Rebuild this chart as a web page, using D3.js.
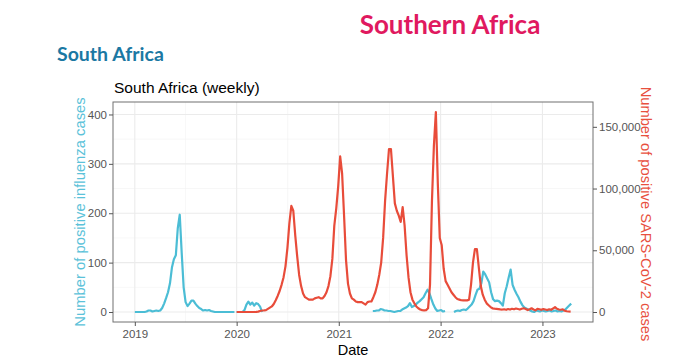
<!DOCTYPE html>
<html>
<head>
<meta charset="utf-8">
<script src="https://cdn.jsdelivr.net/npm/d3@7"></script>
<style>
  body { margin: 0; background: #fff; }
  svg { display: block; }
</style>
</head>
<body>
<svg id="vis" width="680" height="361"></svg>
<script>
// weekly influenza positives, four separate reporting stretches
var fluStarts = ["2019-01-01", "2020-01-01", "2021-05-03", "2022-02-18"];
var fluSegments = [
  [0,0,0,0,0,0,1,3,3,1,2,3,2,3,8,17,28,40,58,90,107,115,170,197,120,50,20,12,17,23,23,17,12,8,6,3,4,3,4,2,1,0,0,0,0,0,0,0,0,0,0,0],
  [0,0,0,0,4,15,21,15,19,13,18,16,11,0],
  [2,2,3,3,6,5,3,3,2,2,1,0,1,2,2,5,7,9,12,18,10,12,15,19,22,26,30,38,45,38,26,15,7,2,3,4,1,2],
  [0,2,3,2,4,5,4,7,11,15,22,34,45,47,58,82,76,68,60,40,26,22,23,22,18,13,38,52,70,86,55,45,37,30,21,14,9,7,5,3,1,0,3,2,1,3,2,1,2,3,1,2,3,1,2,1,3,5,9,13,17]
];

// weekly SARS-CoV-2 positives (thousands)
var covidStart = "2020-01-01";
var covidThousands = [
  0,0,0,0,0,0,0,0,0,0,0.1,0.3,0.8,1.2,1.3,1.5,2.5,3.5,4.5,6.5,
  9.5,13,17,22,28,37,52,72,86,82,62,45,30,21,15,12,11,10,10,10,
  11,11.5,12,11,11,13,16,21,29,43,70,84,102,126,112,78,42,23,15,11,
  10,8.5,8,8,8,7,6,8,8.5,8.5,12,16,22,30,40,60,90,112,132,132,
  110,88,82,78,73,85,70,46,28,16,10,7,4.5,3,2,1.5,1.3,1.5,3,22,
  90,135,162,104,60,54,35,25,22,19,16,14,12,10.5,10,9.5,9.4,9.5,9.4,10,
  22,40,51,51,36,21,14,10,7,5.5,4,3,2.7,2.5,2.3,2.1,2.0,2.2,1.8,2.4,
  2.0,2.6,2.2,2.8,2.4,2.0,2.6,3.0,2.4,1.6,2.2,3.0,2.0,1.4,2.6,2.2,1.8,2.4,2.0,1.6,
  2.2,1.8,2.8,4.0,2.6,2.0,1.8,2.2,1.0,0.6,0.4,0.3
];

var leftTicks = [0, 100, 200, 300, 400];
var leftMinor = [50, 150, 250, 350];
var rightTicks = [0, 50000, 100000, 150000];
var yearTicks = ["2019", "2020", "2021", "2022", "2023"];
var midYears = ["2019-07-02", "2020-07-02", "2021-07-02", "2022-07-02"];

var FLU_COL = "#4bbdd5";
var COV_COL = "#e84c3a";
var RATIO = 400; // secondary axis: covid = flu * 400
var PANEL = { left: 113, right: 593, top: 102, bottom: 322 };

var parse = d3.timeParse("%Y-%m-%d");

function weekly(start, vals, mult){
  var t0 = parse(start);
  return vals.map(function(v, i){
    return { date: d3.timeDay.offset(t0, 7 * i), v: v * mult };
  });
}

var fluData = fluSegments.map(function(seg, k){ return weekly(fluStarts[k], seg, 1); });
var covidData = weekly(covidStart, covidThousands, 1000);

var svg = d3.select("#vis");

// scales (ggplot style 5% expansion)
var allDates = d3.merge(fluData).concat(covidData).map(function(d){ return d.date; });
var dExt = d3.extent(allDates);
var span = dExt[1] - dExt[0];
var x = d3.scaleTime()
  .domain([new Date(+dExt[0] - span * 0.05), new Date(+dExt[1] + span * 0.05)])
  .range([PANEL.left, PANEL.right]);

var yMax = Math.max(d3.max(covidData, function(d){ return d.v; }) / RATIO,
                    d3.max(d3.merge(fluData), function(d){ return d.v; }));
var y = d3.scaleLinear()
  .domain([-yMax * 0.05, yMax * 1.05])
  .range([PANEL.bottom, PANEL.top]);
var yR = d3.scaleLinear()
  .domain(y.domain().map(function(v){ return v * RATIO; }))
  .range(y.range());

// headings
svg.append("text")
  .attr("x", 450).attr("y", 34)
  .attr("text-anchor", "middle")
  .style("font-family", "Lato, 'Open Sans', sans-serif")
  .style("font-weight", "bold")
  .style("font-size", "26px")
  .style("fill", "#e0195f")
  .text("Southern Africa");

svg.append("text")
  .attr("x", 57).attr("y", 61)
  .style("font-family", "Lato, 'Open Sans', sans-serif")
  .style("font-weight", "bold")
  .style("font-size", "19.5px")
  .style("fill", "#1b78a3")
  .text("South Africa");

svg.append("text")
  .attr("x", 114).attr("y", 93)
  .style("font-family", "'Liberation Sans', Arial, sans-serif")
  .style("font-size", "15.5px")
  .style("fill", "#000")
  .text("South Africa (weekly)");

// grid
var grid = svg.append("g");
grid.selectAll(".hmin").data(leftMinor).enter().append("line")
  .attr("x1", PANEL.left).attr("x2", PANEL.right)
  .attr("y1", function(d){ return y(d); }).attr("y2", function(d){ return y(d); })
  .style("stroke", "#f2f2f2").style("stroke-width", 0.6);
grid.selectAll(".vmin").data(midYears).enter().append("line")
  .attr("y1", PANEL.top).attr("y2", PANEL.bottom)
  .attr("x1", function(d){ return x(parse(d)); }).attr("x2", function(d){ return x(parse(d)); })
  .style("stroke", "#f2f2f2").style("stroke-width", 0.6);
grid.selectAll(".hmaj").data(leftTicks).enter().append("line")
  .attr("x1", PANEL.left).attr("x2", PANEL.right)
  .attr("y1", function(d){ return y(d); }).attr("y2", function(d){ return y(d); })
  .style("stroke", "#ebebeb").style("stroke-width", 1.1);
grid.selectAll(".vmaj").data(yearTicks).enter().append("line")
  .attr("y1", PANEL.top).attr("y2", PANEL.bottom)
  .attr("x1", function(d){ return x(parse(d + "-01-01")); }).attr("x2", function(d){ return x(parse(d + "-01-01")); })
  .style("stroke", "#ebebeb").style("stroke-width", 1.1);

// lines
var line = d3.line()
  .x(function(d){ return x(d.date); })
  .y(function(d){ return y(d.v); });
var lineR = d3.line()
  .x(function(d){ return x(d.date); })
  .y(function(d){ return yR(d.v); });

svg.append("g").selectAll("path").data(fluData).enter().append("path")
  .attr("d", line)
  .style("fill", "none")
  .style("stroke", FLU_COL)
  .style("stroke-width", 2.2)
  .style("stroke-linejoin", "round");

svg.append("path")
  .attr("d", lineR(covidData))
  .style("fill", "none")
  .style("stroke", COV_COL)
  .style("stroke-width", 2.2)
  .style("stroke-linejoin", "round");

// panel border
svg.append("rect")
  .attr("x", PANEL.left).attr("y", PANEL.top)
  .attr("width", PANEL.right - PANEL.left).attr("height", PANEL.bottom - PANEL.top)
  .style("fill", "none").style("stroke", "#707070").style("stroke-width", 1);

// axes
function styleAxis(g){
  g.select(".domain").remove();
  g.selectAll(".tick line").style("stroke", "#555");
  g.selectAll(".tick text")
    .style("font-family", "'Liberation Sans', Arial, sans-serif")
    .style("font-size", "11.5px")
    .style("fill", "#555");
}

svg.append("g")
  .attr("transform", "translate(" + PANEL.left + ",0)")
  .call(d3.axisLeft(y).tickValues(leftTicks).tickSize(4).tickPadding(2))
  .call(styleAxis);

svg.append("g")
  .attr("transform", "translate(" + PANEL.right + ",0)")
  .call(d3.axisRight(yR).tickValues(rightTicks).tickSize(4).tickPadding(2).tickFormat(d3.format(",")))
  .call(styleAxis);

svg.append("g")
  .attr("transform", "translate(0," + PANEL.bottom + ")")
  .call(d3.axisBottom(x).tickValues(yearTicks.map(function(d){ return parse(d + "-01-01"); }))
    .tickSize(4).tickPadding(4).tickFormat(d3.timeFormat("%Y")))
  .call(styleAxis);

// axis titles
svg.append("text")
  .attr("x", (PANEL.left + PANEL.right) / 2).attr("y", 355)
  .attr("text-anchor", "middle")
  .style("font-family", "'Liberation Sans', Arial, sans-serif")
  .style("font-size", "14.5px")
  .style("fill", "#000")
  .text("Date");

svg.append("text")
  .attr("transform", "translate(85," + (PANEL.top + PANEL.bottom) / 2 + ") rotate(-90)")
  .attr("text-anchor", "middle")
  .style("font-family", "'Liberation Sans', Arial, sans-serif")
  .style("font-size", "14.8px")
  .style("fill", "#5bc2d9")
  .text("Number of positive influenza cases");

svg.append("text")
  .attr("transform", "translate(641,214) rotate(90)")
  .attr("text-anchor", "middle")
  .style("font-family", "'Liberation Sans', Arial, sans-serif")
  .style("font-size", "14.7px")
  .style("fill", "#e8503e")
  .text("Number of positive SARS-CoV-2 cases");
</script>
</body>
</html>
